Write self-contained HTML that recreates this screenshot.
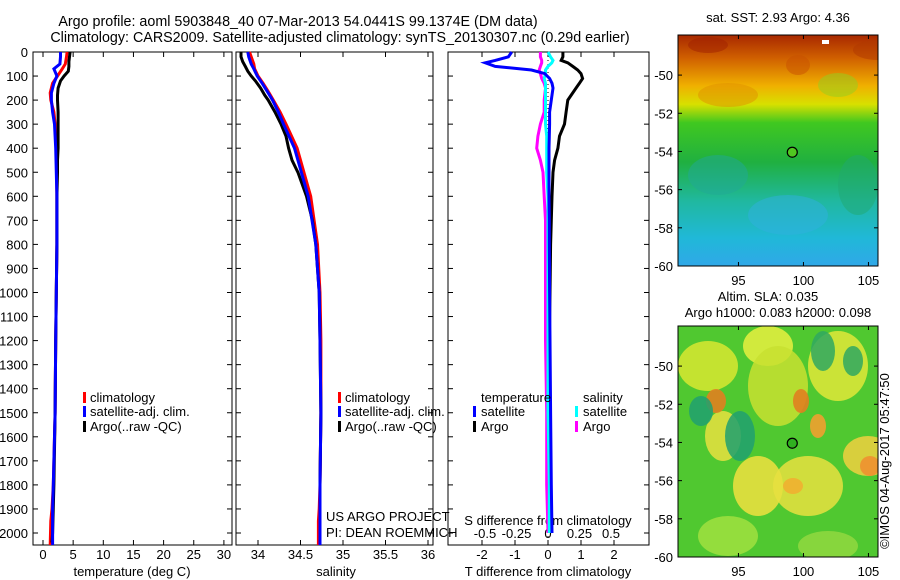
<!DOCTYPE html>
<html><head><meta charset="utf-8">
<style>
body{margin:0;background:#fff;}
svg{display:block;font-family:"Liberation Sans",sans-serif;font-size:13px;}
</style></head>
<body>
<svg id="chart" width="900" height="580" viewBox="0 0 900 580">
<text x="298" y="26" text-anchor="middle" style="font-size:14.3px">Argo profile: aoml 5903848_40 07-Mar-2013 54.0441S 99.1374E (DM data)</text>
<text x="340" y="42" text-anchor="middle" style="font-size:14.3px">Climatology: CARS2009. Satellite-adjusted climatology: synTS_20130307.nc (0.29d earlier)</text>
<g id="plots"></g>
<g id="maps"></g>
</svg>
<script>
// ---------- data ----------
const depthTicks=[0,100,200,300,400,500,600,700,800,900,1000,1100,1200,1300,1400,1500,1600,1700,1800,1900,2000];
const tempTicks=[0,5,10,15,20,25,30];
const salTicks=[34,34.5,35,35.5,36];
const salTickLabels=["34","34.5","35","35.5","36"];
const tdTicks=[-2,-1,0,1,2];
const sdTicks=[-0.5,-0.25,0,0.25,0.5];
const sdTickLabels=["-0.5","-0.25","0","0.25","0.5"];

const climDepth=[0,20,50,70,100,130,170,200,250,300,400,600,800,1000,1200,1500,1800,1900,1950,2050];
const climTemp=[4.0,3.9,3.7,3.2,2.4,1.6,1.2,1.3,1.8,2.0,2.2,2.3,2.3,2.2,2.1,2.0,1.7,1.5,1.3,1.2];
const satTemp=[2.9,2.9,2.8,1.8,2.3,1.8,1.4,1.4,1.6,1.9,2.1,2.3,2.3,2.2,2.1,2.0,1.7,1.6,1.6,1.6];
const climSal=[33.9,33.92,33.95,33.96,34.0,34.06,34.13,34.18,34.26,34.33,34.46,34.62,34.7,34.73,34.74,34.74,34.73,34.72,34.71,34.71];
const satSal=[33.88,33.89,33.92,33.95,33.99,34.05,34.12,34.17,34.24,34.3,34.43,34.59,34.68,34.72,34.73,34.74,34.73,34.73,34.73,34.73];

const argoDepth=[0,20,40,60,80,100,120,150,180,200,250,300,350,400,450,500,600,700,800,1000,1200,1500,1800,2000,2040];
const argoTemp=[4.5,4.4,4.3,4.3,4.2,3.5,2.9,2.5,2.4,2.4,2.5,2.5,2.5,2.5,2.4,2.4,2.3,2.3,2.3,2.2,2.1,2.0,1.8,1.6,1.5];
const argoSal=[33.8,33.8,33.82,33.85,33.88,33.92,33.97,34.03,34.08,34.12,34.2,34.27,34.33,34.36,34.4,34.47,34.57,34.64,34.68,34.72,34.73,34.74,34.73,34.73,34.73];

const diffDepth=[0,20,35,45,60,75,90,110,130,150,200,250,300,350,400,450,500,600,700,800,1000,1200,1500,1800,2000];
const tdSat=[-1.1,-1.2,-1.6,-1.9,-1.6,-0.5,-0.1,0.05,0.12,0.15,0.1,0.05,0.05,0.04,0.03,0.03,0.03,0.03,0.04,0.04,0.05,0.06,0.08,0.1,0.12];
const tdArgo=[0.45,0.45,0.4,0.6,0.75,0.9,1.0,1.05,0.95,0.85,0.6,0.55,0.5,0.35,0.3,0.2,0.15,0.12,0.1,0.08,0.06,0.04,0.03,0.03,0.03];
const sdSat=[0.0,0.02,0.04,0.03,0.0,-0.02,-0.02,-0.03,-0.02,-0.02,-0.02,-0.02,-0.02,-0.01,-0.01,-0.01,-0.01,0,0,0,0,0,0,0.01,0.01];
const sdArgo=[-0.06,-0.06,-0.05,-0.05,-0.06,-0.07,-0.06,-0.05,-0.03,-0.02,-0.03,-0.03,-0.06,-0.08,-0.09,-0.06,-0.04,-0.03,-0.02,-0.02,-0.02,-0.02,-0.01,-0.01,0];

const mapLonTicks=[95,100,105];
const mapLatTicks=[-50,-52,-54,-56,-58,-60];
const argoLon=99.14, argoLat=-54.04;

// ---------- helpers ----------
const NS="http://www.w3.org/2000/svg";
function mk(tag,attrs,parent){const e=document.createElementNS(NS,tag);for(const k in attrs)e.setAttribute(k,attrs[k]);parent.appendChild(e);return e;}
const plots=document.getElementById('plots');
const top0=52,bot=545;
const yD=d=>top0+d*0.2405;
const xT=v=>43+v*6.03;
const xS=v=>258+(v-34)*85;
const xTD=v=>548+v*33;
const xSD=v=>548+v*126;

function panel(x0,x1,name){
  const r=mk('rect',{x:x0,y:top0,width:x1-x0,height:bot-top0,fill:'none',stroke:'#000','stroke-width':1},plots);
  
  
}
function line(xs,ds,fx,color,name,w){
  let pts=xs.map((v,i)=>fx(v).toFixed(1)+','+yD(ds[i]).toFixed(1)).join(' ');
  const p=mk('polyline',{points:pts,fill:'none',stroke:color,'stroke-width':w||3},plots);
  
  
}
function xticks(ticks,labels,fx,y){
  ticks.forEach((t,i)=>{
    const x=fx(t);
    mk('line',{x1:x,x2:x,y1:bot,y2:bot-5,stroke:'#000'},plots);
    mk('line',{x1:x,x2:x,y1:top0,y2:top0+5,stroke:'#000'},plots);
    const tx=mk('text',{x:x,y:y,'text-anchor':'middle'},plots);
    tx.textContent=labels?labels[i]:String(t);
    
    
  });
}
function text(x,y,s,name,anchor){
  const t=mk('text',{x:x,y:y,'text-anchor':anchor||'start'},plots);t.textContent=s;
  
  
}
function legbar(x,y,color){const r=mk('rect',{x:x,y:y-10,width:3,height:11,fill:color},plots);
  
  }

panel(33,232,'temperature-panel');
panel(236,433,'salinity-panel');
panel(448,649,'difference-panel');

depthTicks.forEach(d=>{
  const y=yD(d);
  mk('line',{x1:33,x2:38,y1:y,y2:y,stroke:'#000'},plots);
  mk('line',{x1:227,x2:232,y1:y,y2:y,stroke:'#000'},plots);
  mk('line',{x1:236,x2:241,y1:y,y2:y,stroke:'#000'},plots);
  mk('line',{x1:428,x2:433,y1:y,y2:y,stroke:'#000'},plots);
  mk('line',{x1:448,x2:453,y1:y,y2:y,stroke:'#000'},plots);
  mk('line',{x1:644,x2:649,y1:y,y2:y,stroke:'#000'},plots);
  const t=mk('text',{x:28,y:y+5,'text-anchor':'end'},plots);t.textContent=String(d);
  
  
});

xticks(tempTicks,null,xT,559);
xticks(salTicks,salTickLabels,xS,559);
xticks(tdTicks,null,xTD,559);
sdTicks.forEach((t,i)=>{const tx=mk('text',{x:xSD(t),y:538,'text-anchor':'middle'},plots);tx.textContent=sdTickLabels[i];
  
  });

text(132,576,'temperature (deg C)','temperature-axis-title','middle');
text(336,576,'salinity','salinity-axis-title','middle');
text(548,576,'T difference from climatology','t-diff-axis-title','middle');
text(548,525,'S difference from climatology','s-diff-axis-title','middle');

const zl=mk('line',{x1:548,x2:548,y1:top0,y2:bot,stroke:'#000','stroke-dasharray':'1,3'},plots);



line(climTemp,climDepth,xT,'#f00','temp-climatology');
line(argoTemp,argoDepth,xT,'#000','temp-argo');
line(satTemp,climDepth,xT,'#00f','temp-satellite-adj');
line(climSal,climDepth,xS,'#f00','sal-climatology');
line(argoSal,argoDepth,xS,'#000','sal-argo');
line(satSal,climDepth,xS,'#00f','sal-satellite-adj');
line(tdArgo,diffDepth,xTD,'#000','tdiff-argo');
line(sdArgo,diffDepth,xSD,'#f0f','sdiff-argo');
line(sdSat,diffDepth,xSD,'#0ff','sdiff-satellite');
line(tdSat,diffDepth,xTD,'#00f','tdiff-satellite');

[[83,'climatology','#f00',402],[83,'satellite-adj. clim.','#00f',416],[83,'Argo(..raw -QC)','#000',431]].forEach(a=>{legbar(a[0],a[3],a[2]);text(a[0]+7,a[3],a[1],'legend-entry');});
[[338,'climatology','#f00',402],[338,'satellite-adj. clim.','#00f',416],[338,'Argo(..raw -QC)','#000',431]].forEach(a=>{legbar(a[0],a[3],a[2]);text(a[0]+7,a[3],a[1],'legend-entry');});
text(481,402,'temperature','legend-heading');
text(583,402,'salinity','legend-heading');
legbar(473,416,'#00f');text(481,416,'satellite','legend-entry');
legbar(473,431,'#000');text(481,431,'Argo','legend-entry');
legbar(575,416,'#0ff');text(583,416,'satellite','legend-entry');
legbar(575,431,'#f0f');text(583,431,'Argo','legend-entry');
text(326,521,'US ARGO PROJECT','credit-project');
text(326,537,'PI: DEAN ROEMMICH','credit-pi');

// ---------- maps ----------
const maps=document.getElementById('maps');
function mapPanel(x0,y0,w,h,name,kind){
  const lonX=l=>x0+(l-90.35)*13;
  const latY=l=>y0+h-( l+60)*(h/12.1);
  const g=mk('g',{},maps);
  
  
  const id='clip'+kind;
  const cp=mk('clipPath',{id:id},g);mk('rect',{x:x0,y:y0,width:w,height:h},cp);
  const inner=mk('g',{'clip-path':'url(#'+id+')'},g);
  if(kind==='sst'){
    const gr=mk('linearGradient',{id:'sstg',x1:0,y1:0,x2:0,y2:1},g);
    [['0','#a82800'],['0.1','#d06000'],['0.22','#f0b000'],['0.3','#d8e000'],['0.38','#40c820'],['0.55','#20b040'],['0.72','#20b8a0'],['0.88','#20b8d8'],['1','#30a8e8']].forEach(s=>mk('stop',{offset:s[0],'stop-color':s[1]},gr));
    mk('rect',{x:x0,y:y0,width:w,height:h,fill:'url(#sstg)'},inner);
    [[30,10,20,8,'#a02000'],[120,30,12,10,'#c85000'],[200,15,25,10,'#b03800'],[50,60,30,12,'#e09000'],[160,50,20,12,'#90d020'],[110,180,40,20,'#30b0e0'],[40,140,30,20,'#20a898'],[180,150,20,30,'#20a870']].forEach(b=>mk('ellipse',{cx:x0+b[0],cy:y0+b[1],rx:b[2],ry:b[3],fill:b[4],opacity:0.5},inner));
    mk('rect',{x:x0+144,y:y0+5,width:7,height:4,fill:'#fff'},inner);
  } else {
    mk('rect',{x:x0,y:y0,width:w,height:h,fill:'#50c830'},inner);
    [[30,40,30,25,'#d8e830'],[90,20,25,20,'#e8f040'],[160,40,30,35,'#e0e838'],[45,110,18,25,'#e8e040'],[80,160,25,30,'#f0e040'],[130,160,35,30,'#e8e040'],[190,130,25,20,'#f0d040'],[50,210,30,20,'#a0e040'],[150,220,30,15,'#90d840'],[100,60,30,40,'#c8e030']].forEach(b=>mk('ellipse',{cx:x0+b[0],cy:y0+b[1],rx:b[2],ry:b[3],fill:b[4],opacity:0.85},inner));
    [[38,75,10,12,'#e08020'],[123,75,8,12,'#e08020'],[140,100,8,12,'#f0a030'],[115,160,10,8,'#f0b030'],[192,140,10,10,'#f09030']].forEach(b=>mk('ellipse',{cx:x0+b[0],cy:y0+b[1],rx:b[2],ry:b[3],fill:b[4],opacity:0.9},inner));
    [[23,85,12,15,'#20a070'],[62,110,15,25,'#20a070'],[145,25,12,20,'#30a860'],[175,35,10,15,'#30a860']].forEach(b=>mk('ellipse',{cx:x0+b[0],cy:y0+b[1],rx:b[2],ry:b[3],fill:b[4],opacity:0.85},inner));
  }
  mk('rect',{x:x0,y:y0,width:w,height:h,fill:'none',stroke:'#000'},g);
  const dot=mk('circle',{cx:lonX(argoLon),cy:latY(argoLat),r:5,fill:kind==='sst'?'#50c820':'#30b020',stroke:'#000','stroke-width':1.2},g);
  
  
  mapLonTicks.forEach(l=>{const x=lonX(l);
    mk('line',{x1:x,x2:x,y1:y0,y2:y0+4,stroke:'#000'},g);mk('line',{x1:x,x2:x,y1:y0+h,y2:y0+h-4,stroke:'#000'},g);
    const t=mk('text',{x:x,y:y0+h+19,'text-anchor':'middle'},g);t.textContent=String(l);
    
    });
  mapLatTicks.forEach(l=>{const y=latY(l);
    mk('line',{x1:x0,x2:x0+4,y1:y,y2:y,stroke:'#000'},g);mk('line',{x1:x0+w,x2:x0+w-4,y1:y,y2:y,stroke:'#000'},g);
    const t=mk('text',{x:x0-5,y:y+5,'text-anchor':'end'},g);t.textContent=String(l);
    
    });
}
mapPanel(678,35,200,231,'sst-map','sst');
mapPanel(678,326,200,231,'sla-map','sla');
function mt(x,y,s,name,extra){const t=mk('text',Object.assign({x:x,y:y,'text-anchor':'middle'},extra||{}),maps);t.textContent=s;
  
  }
mt(778,22,'sat. SST: 2.93 Argo: 4.36','sst-map-title');
mt(768,301,'Altim. SLA: 0.035','sla-map-title');
mt(778,317,'Argo h1000: 0.083 h2000: 0.098','argo-height-title');
mt(0,0,'©IMOS 04-Aug-2017 05:47:50','timestamp',{transform:'translate(889,461) rotate(-90)'});
</script>
</body></html>
